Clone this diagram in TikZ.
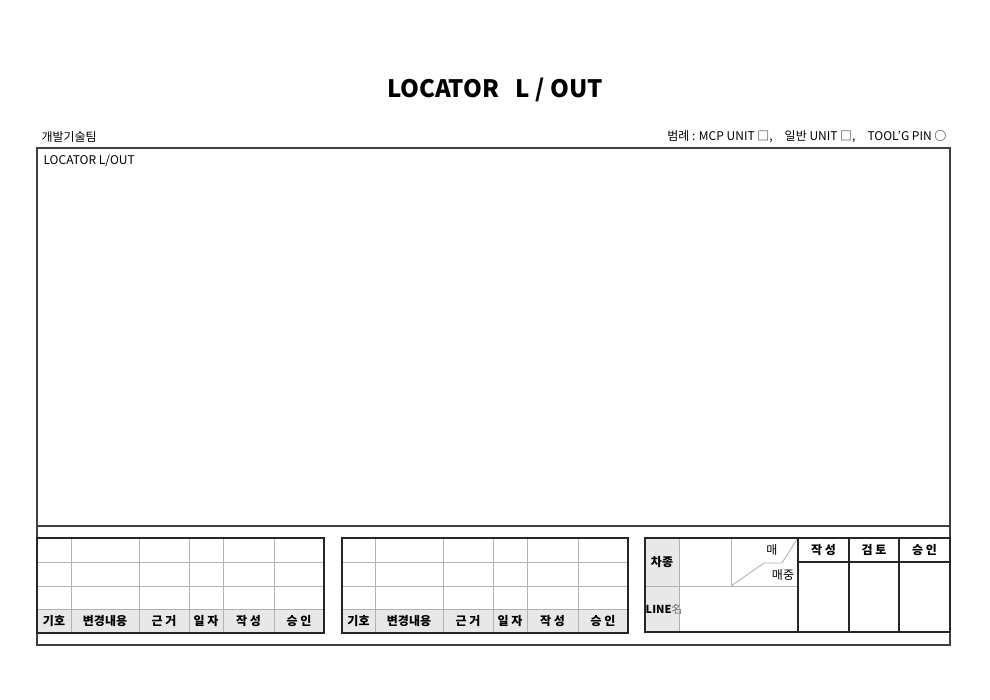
\documentclass[tikz,border=0pt]{standalone}
\usepackage{fontspec}
\setmainfont{Noto Sans CJK KR}
\definecolor{framegray}{rgb}{0.25,0.25,0.25}
\definecolor{gridgray}{rgb}{0.70,0.70,0.70}
\definecolor{headfill}{rgb}{0.91,0.91,0.91}
\tikzset{
    frameline/.style={draw=framegray, line width=1.4pt},
    gridline/.style={draw=gridgray, line width=0.9pt},
    boxline/.style={draw=black!85, line width=1.1pt},
    headtext/.style={font=\bfseries\fontsize{12}{14}\selectfont},
    plaintext/.style={font=\fontsize{12}{14}\selectfont}
}

\begin{document}
\begin{tikzpicture}[x=1pt,y=-1pt]
    \useasboundingbox (0,0) rectangle (990,700);
    % title and top line
    \node[font=\bfseries\fontsize{24}{28}\selectfont] (title) at (495,90) {LOCATOR\ \ \ L / OUT};
    \node[plaintext, anchor=west] (team)   at (38,137)  {개발기술팀};
    \node[plaintext, anchor=east] (legend) at (950,137) {범례 : MCP UNIT □,\quad 일반 UNIT □,\quad TOOL'G PIN ○};
    % frame
    \draw[frameline] (37,148) rectangle (950,645);
    \draw[frameline] (37,526) -- (950,526);
    \node[plaintext, anchor=north west] (area) at (40,151) {LOCATOR L/OUT};

    % left change table
    \fill[headfill] (37,609) rectangle (324,633);
    \draw[gridline] (37,562) -- (324,562);
    \draw[gridline] (37,586) -- (324,586);
    \draw[gridline] (37,609) -- (324,609);
    \draw[gridline] (71,538) -- (71,633);
    \draw[gridline] (139,538) -- (139,633);
    \draw[gridline] (189,538) -- (189,633);
    \draw[gridline] (223,538) -- (223,633);
    \draw[gridline] (274,538) -- (274,633);
    \draw[boxline] (37,538) rectangle (324,633);
    \node[headtext] (la) at (54,621)    {기호};
    \node[headtext] (lb) at (105,621)   {변경내용};
    \node[headtext] (lc) at (164,621)   {근 거};
    \node[headtext] (ld) at (206,621)   {일 자};
    \node[headtext] (le) at (248.5,621) {작 성};
    \node[headtext] (lf) at (299,621)   {승 인};

    % middle change table
    \fill[headfill] (342,609) rectangle (628,633);
    \draw[gridline] (342,562) -- (628,562);
    \draw[gridline] (342,586) -- (628,586);
    \draw[gridline] (342,609) -- (628,609);
    \draw[gridline] (375,538) -- (375,633);
    \draw[gridline] (443,538) -- (443,633);
    \draw[gridline] (493,538) -- (493,633);
    \draw[gridline] (527,538) -- (527,633);
    \draw[gridline] (578,538) -- (578,633);
    \draw[boxline] (342,538) rectangle (628,633);
    \node[headtext] (ma) at (358.5,621) {기호};
    \node[headtext] (mb) at (409,621)   {변경내용};
    \node[headtext] (mc) at (468,621)   {근 거};
    \node[headtext] (md) at (510,621)   {일 자};
    \node[headtext] (me) at (552.5,621) {작 성};
    \node[headtext] (mf) at (603,621)   {승 인};

    % approval table
    \fill[headfill] (645,538) rectangle (679,632);
    \draw[gridline] (679,538) -- (679,632);
    \draw[gridline] (645,586) -- (798,586);
    \draw[gridline] (731,538) -- (731,586);
    \draw[gridline] (731,586) -- (764,563) -- (782,563) -- (797,539);
    \draw[boxline] (645,538) rectangle (950,632);
    \draw[boxline] (798,538) -- (798,632);
    \draw[boxline] (798,562) -- (950,562);
    \draw[boxline] (849,538) -- (849,632);
    \draw[boxline] (899,538) -- (899,632);
    \node[headtext] (car)  at (662,562)   {차종};
    \node[font=\bfseries\fontsize{11}{13}\selectfont, anchor=west, inner sep=0pt] (line) at (645.5,609) {LINE{\mdseries\color{black!55}名}};
    \node[plaintext] (qa)  at (772,550)   {매};
    \node[plaintext] (qb)  at (783,575)   {매중};
    \node[headtext] (ra)   at (823.5,550) {작 성};
    \node[headtext] (rb)   at (874,550)   {검 토};
    \node[headtext] (rc)   at (924.5,550) {승 인};
\end{tikzpicture}
\end{document}
